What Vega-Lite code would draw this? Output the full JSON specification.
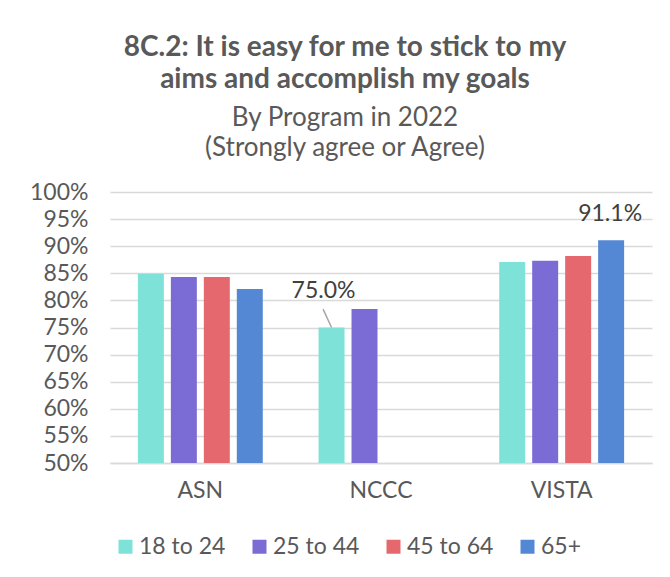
{
  "$schema": "https://vega.github.io/schema/vega-lite/v6.json",
  "width": 542,
  "height": 271,
  "autosize": {"type": "none"},
  "padding": {"left": 110, "top": 192, "right": 18, "bottom": 114},
  "background": "white",
  "config": {
    "font": "Lato",
    "view": {"stroke": null}
  },
  "title": {
    "text": ["8C.2: It is easy for me to stick to my", "aims and accomplish my goals"],
    "subtitle": ["By Program in 2022", "(Strongly agree or Agree)"],
    "font": "Lato",
    "fontSize": 28,
    "fontWeight": "bold",
    "color": "#595959",
    "lineHeight": 32,
    "subtitleFont": "Lato",
    "subtitleFontSize": 26,
    "subtitleColor": "#595959",
    "subtitleLineHeight": 30,
    "subtitlePadding": 11,
    "anchor": "middle",
    "dx": -36,
    "offset": 20
  },
  "data": {
    "values": [
      {"Program": "ASN", "Age": "18 to 24", "value": 0.849, "label": null},
      {"Program": "ASN", "Age": "25 to 44", "value": 0.843, "label": null},
      {"Program": "ASN", "Age": "45 to 64", "value": 0.843, "label": null},
      {"Program": "ASN", "Age": "65+", "value": 0.821, "label": null},
      {"Program": "NCCC", "Age": "18 to 24", "value": 0.75, "label": "75.0%"},
      {"Program": "NCCC", "Age": "25 to 44", "value": 0.784, "label": null},
      {"Program": "VISTA", "Age": "18 to 24", "value": 0.871, "label": null},
      {"Program": "VISTA", "Age": "25 to 44", "value": 0.873, "label": null},
      {"Program": "VISTA", "Age": "45 to 64", "value": 0.882, "label": null},
      {"Program": "VISTA", "Age": "65+", "value": 0.911, "label": "91.1%"}
    ]
  },
  "encoding": {
    "x": {
      "field": "Program",
      "type": "nominal",
      "sort": ["ASN", "NCCC", "VISTA"],
      "scale": {"paddingInner": 0.27, "paddingOuter": 0.135},
      "axis": {
        "title": null,
        "labelAngle": 0,
        "labelFontSize": 23,
        "labelColor": "#595959",
        "labelPadding": 16,
        "ticks": false,
        "domainColor": "#d9d9d9",
        "domainWidth": 1.5
      }
    },
    "xOffset": {
      "field": "Age",
      "type": "nominal",
      "sort": ["18 to 24", "25 to 44", "45 to 64", "65+"],
      "scale": {"paddingInner": 0.212, "paddingOuter": 0.106}
    },
    "y": {
      "field": "value",
      "type": "quantitative",
      "scale": {"domain": [0.5, 1.0], "zero": false, "nice": false},
      "axis": {
        "title": null,
        "format": ".0%",
        "values": [0.5, 0.55, 0.6, 0.65, 0.7, 0.75, 0.8, 0.85, 0.9, 0.95, 1.0],
        "labelFontSize": 23,
        "labelColor": "#595959",
        "labelPadding": 22,
        "ticks": false,
        "domain": false,
        "gridColor": "#d9d9d9",
        "gridWidth": 1.5
      }
    }
  },
  "layer": [
    {
      "mark": {"type": "bar"},
      "encoding": {
        "y2": {"datum": 0.5},
        "color": {
          "field": "Age",
          "type": "nominal",
          "sort": ["18 to 24", "25 to 44", "45 to 64", "65+"],
          "scale": {
            "domain": ["18 to 24", "25 to 44", "45 to 64", "65+"],
            "range": ["#7EE2D8", "#7B6BD4", "#E6686F", "#5588D4"]
          },
          "legend": {
            "title": null,
            "orient": "none",
            "direction": "horizontal",
            "legendX": 4,
            "legendY": 343,
            "symbolType": "square",
            "symbolSize": 196,
            "symbolStrokeWidth": 0,
            "labelFontSize": 23,
            "labelColor": "#595959",
            "labelOffset": 2,
            "columnPadding": 22
          }
        }
      }
    },
    {
      "transform": [{"filter": "datum.label === '75.0%'"}],
      "mark": {"type": "rule", "color": "#a6a6a6", "strokeWidth": 1.5, "x2Offset": 8},
      "encoding": {
        "x2": {"field": "Program", "bandPosition": 0},
        "y2": {"datum": 0.784}
      }
    },
    {
      "transform": [{"filter": "datum.label === '75.0%'"}],
      "mark": {"type": "text", "fontSize": 23, "color": "#404040", "baseline": "middle", "dx": -8, "dy": -37},
      "encoding": {"text": {"field": "label"}}
    },
    {
      "transform": [{"filter": "datum.label === '91.1%'"}],
      "mark": {"type": "text", "fontSize": 23, "color": "#404040", "baseline": "middle", "dx": -1, "dy": -26},
      "encoding": {"text": {"field": "label"}}
    }
  ]
}
